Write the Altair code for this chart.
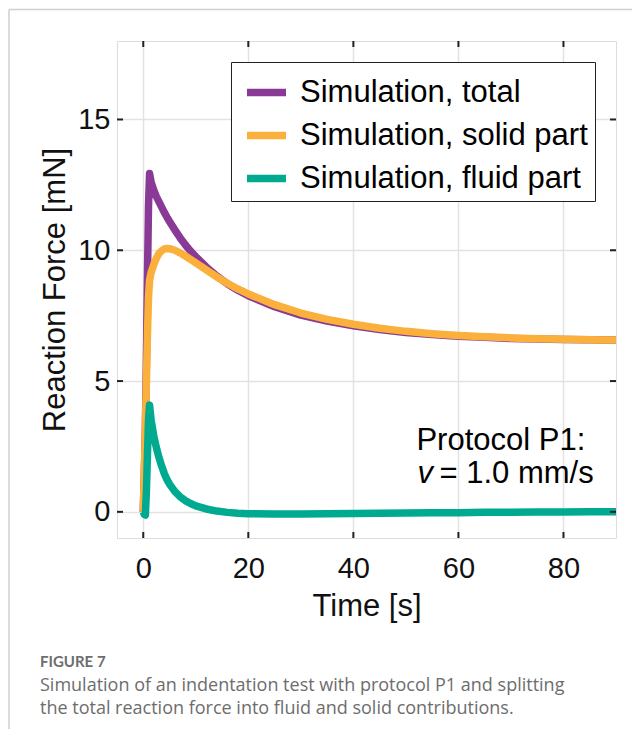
import altair as alt
import pandas as pd

# ---------------- data ----------------
t = [0, 0.2, 0.4, 0.6, 0.8, 1.0, 1.2, 1.5, 2, 2.5, 3, 3.5, 4, 4.5, 5, 6, 7, 8, 9, 10,
     12, 14, 16, 18, 20, 25, 30, 35, 40, 45, 50, 55, 60, 65, 70, 75, 80, 85, 90]

total = [0, 1.4, 3.1, 5.8, 9.0, 11.7, 12.93, 12.6, 12.3, 12.05, 11.85, 11.65, 11.45, 11.27, 11.1,
         10.78, 10.48, 10.21, 9.97, 9.75, 9.36, 9.01, 8.72, 8.47, 8.26, 7.84, 7.52, 7.29, 7.11,
         6.97, 6.86, 6.78, 6.71, 6.67, 6.63, 6.61, 6.59, 6.58, 6.57]

solid = [0, 1.5, 3.2, 5.0, 6.8, 8.2, 8.85, 9.15, 9.45, 9.7, 9.88, 9.98, 10.05, 10.07, 10.06,
         10.0, 9.9, 9.78, 9.65, 9.52, 9.25, 8.98, 8.74, 8.52, 8.33, 7.92, 7.6, 7.36, 7.17,
         7.02, 6.9, 6.81, 6.74, 6.69, 6.65, 6.62, 6.6, 6.58, 6.57]

fluid = [0, -0.1, -0.12, 0.8, 2.2, 3.5, 4.08, 3.5, 2.9, 2.45, 2.07, 1.75, 1.47, 1.24, 1.06,
         0.78, 0.58, 0.43, 0.32, 0.23, 0.11, 0.03, -0.02, -0.05, -0.07, -0.08, -0.08, -0.07,
         -0.06, -0.05, -0.04, -0.03, -0.03, -0.02, -0.02, -0.01, -0.01, 0, 0]

series_names = ["Simulation, total", "Simulation, solid part", "Simulation, fluid part"]
series_colors = ["#883a96", "#fbb03b", "#00aa90"]

x_ticks = [0, 20, 40, 60, 80]
y_ticks = [0, 5, 10, 15]

caption_title = "FIGURE 7"
caption_lines = ["Simulation of an indentation test with protocol P1 and splitting",
                 "the total reaction force into fluid and solid contributions."]

# ---------------- chart ----------------
W, H = 499, 497
FONT = "Liberation Sans"
x_scale = alt.Scale(domain=[-5, 90], nice=False, zero=False)
y_scale = alt.Scale(domain=[-1, 18], nice=False, zero=False)
color_scale = alt.Scale(domain=series_names, range=series_colors)

x_axis = alt.Axis(values=x_ticks, title="Time [s]", grid=True, ticks=False, tickSize=0,
                  domain=False, labelFontSize=29, titleFontSize=31, labelFont=FONT,
                  titleFont=FONT, labelColor="#111", titleColor="#111", titleFontWeight="normal",
                  labelPadding=16, titlePadding=8, gridColor="#e2e2e2", gridWidth=1.5)
y_axis = alt.Axis(values=y_ticks, title="Reaction Force [mN]", grid=True, ticks=False, tickSize=0,
                  domain=False, labelFontSize=29, titleFontSize=31, labelFont=FONT,
                  titleFont=FONT, labelColor="#111", titleColor="#111", titleFontWeight="normal",
                  labelPadding=7, titlePadding=6, gridColor="#e2e2e2", gridWidth=1.5)

legend = alt.Legend(title=None, orient="top-right", offset=21, symbolType="stroke",
                    symbolSize=1521, symbolStrokeWidth=7.5, labelFontSize=31, labelFont=FONT,
                    labelColor="#000", strokeColor="#222", fillColor="white", padding=7,
                    symbolOffset=5, rowPadding=4, labelOffset=10, labelLimit=600)

X = lambda f: alt.X(f, scale=x_scale, axis=x_axis)
Y = lambda f: alt.Y(f, scale=y_scale, axis=y_axis)


def line_layer(values, name):
    df = pd.DataFrame({"t": t, "F": values, "series": name})
    return alt.Chart(df).mark_line(strokeWidth=7.5, strokeJoin="round").encode(
        x=X("t:Q"), y=Y("F:Q"),
        color=alt.Color("series:N", scale=color_scale, legend=legend),
    )


lines = [line_layer(total, series_names[0]),
         line_layer(solid, series_names[1]),
         line_layer(fluid, series_names[2])]

xt = pd.DataFrame({"v": x_ticks})
yt = pd.DataFrame({"v": y_ticks})
tick_style = dict(color="#222", strokeWidth=2)
ticks = [
    alt.Chart(xt).mark_rule(**tick_style).encode(x=X("v:Q"), y=alt.value(H - 6), y2=alt.value(H)),
    alt.Chart(xt).mark_rule(**tick_style).encode(x=X("v:Q"), y=alt.value(0), y2=alt.value(6)),
    alt.Chart(yt).mark_rule(**tick_style).encode(y=Y("v:Q"), x=alt.value(0), x2=alt.value(6)),
    alt.Chart(yt).mark_rule(**tick_style).encode(y=Y("v:Q"), x=alt.value(W - 6), x2=alt.value(W)),
]

ann1 = pd.DataFrame({"x": [52.0], "y": [2.37], "label": ["Protocol P1:"]})
ann2 = pd.DataFrame({"x": [52.2], "y": [1.11], "label": ["v"]})
ann3 = pd.DataFrame({"x": [56.4], "y": [1.11], "label": ["= 1.0 mm/s"]})
text_style = dict(align="left", baseline="alphabetic", fontSize=31, font=FONT, color="#000")
annotations = [
    alt.Chart(ann1).mark_text(**text_style).encode(x=X("x:Q"), y=Y("y:Q"), text="label:N"),
    alt.Chart(ann2).mark_text(fontStyle="italic", **text_style).encode(x=X("x:Q"), y=Y("y:Q"), text="label:N"),
    alt.Chart(ann3).mark_text(**text_style).encode(x=X("x:Q"), y=Y("y:Q"), text="label:N"),
]

one = pd.DataFrame({"a": [0]})
frame = [
    alt.Chart(one).mark_rule(color="#cfcfcf", strokeWidth=1.5).encode(x=alt.value(-108), y=alt.value(-31.5), y2=alt.value(688)),
    alt.Chart(one).mark_rule(color="#cfcfcf", strokeWidth=1.5).encode(x=alt.value(-108), x2=alt.value(515), y=alt.value(-31.5)),
]

caption = [
    alt.Chart(one).mark_text(text=caption_title, fontWeight="bold", align="left", baseline="alphabetic",
                             font="Lato", fontSize=15, color="#6d6d6d").encode(
        x=alt.value(-77), y=alt.value(626)),
    alt.Chart(one).mark_text(text=caption_lines, lineHeight=22.5, align="left", baseline="alphabetic",
                             font="Open Sans", fontSize=18, color="#6d6d6d").encode(
        x=alt.value(-77), y=alt.value(650)),
]

chart = alt.layer(*frame, *lines, *ticks, *annotations, *caption).properties(
    width=W, height=H,
    padding=0,
).configure_view(stroke="#1a1a1a", strokeWidth=2).configure(background="white")

chart.save("out.html", embed_options={"renderer": "svg", "actions": False})
